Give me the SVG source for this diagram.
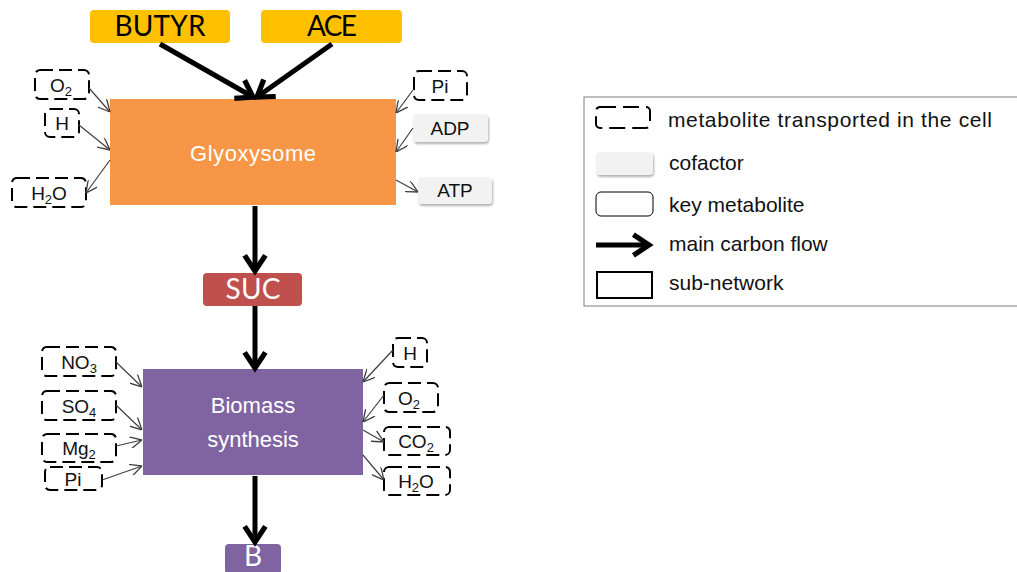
<svg xmlns="http://www.w3.org/2000/svg" width="1017" height="572" viewBox="0 0 1017 572">
<style>
.big{font-family:Lato,"Open Sans",sans-serif;font-size:28px;text-anchor:middle}
.sub{font-family:"Liberation Sans",Arial,sans-serif;font-size:22px;fill:#fff;text-anchor:middle}
.lbl{font-family:"Liberation Sans",Arial,sans-serif;font-size:19px;fill:#111;text-anchor:middle}
.leg{font-family:"Liberation Sans",Arial,sans-serif;font-size:21px;fill:#111}
.dash{fill:#fff;stroke:#000;stroke-width:2;stroke-dasharray:13 6}
.cof{fill:#F2F2F2;filter:url(#sh)}
.thick{stroke:#000;stroke-width:5;fill:none;marker-end:url(#ah)}
.thin{stroke:#404040;stroke-width:1.2;fill:none;marker-end:url(#at)}
</style>
<defs>
<filter id="sh" x="-20%" y="-20%" width="140%" height="160%"><feDropShadow dx="1" dy="2" stdDeviation="1.3" flood-color="#000" flood-opacity="0.3"/></filter>
<marker id="ah" viewBox="0 0 20 20" refX="14" refY="10" markerWidth="26" markerHeight="26" markerUnits="userSpaceOnUse" orient="auto"><path d="M2,2 L14,10 L2,18" fill="none" stroke="#000" stroke-width="4"/></marker>
<marker id="at" viewBox="0 0 10 10" refX="10" refY="5" markerWidth="12" markerHeight="12" markerUnits="userSpaceOnUse" orient="auto"><path d="M0,0 L10,5 L0,10" fill="none" stroke="#404040" stroke-width="1.1"/></marker>
</defs>
<rect width="1017" height="572" fill="#fff"/>

<g id="butyr"><rect x="90" y="10" width="140" height="33" rx="4" fill="#FFC000"/><text class="big" x="160" y="36" textLength="91">BUTYR</text></g>
<g id="ace"><rect x="261" y="10" width="141" height="33" rx="4" fill="#FFC000"/><text class="big" x="332" y="36" textLength="50">ACE</text></g>
<g id="glyoxysome"><rect x="110" y="99" width="286" height="106" fill="#F79646"/><text class="sub" x="253" y="161" textLength="126">Glyoxysome</text></g>
<g id="suc"><rect x="203" y="273" width="99" height="33" rx="4" fill="#C0504D"/><text class="big" x="253" y="299" fill="#fff" textLength="55">SUC</text></g>
<g id="biomass"><rect x="143" y="369" width="220" height="106" fill="#8064A2"/><text class="sub" x="253" y="413">Biomass</text><text class="sub" x="253" y="447">synthesis</text></g>
<g id="b"><rect x="225" y="544" width="56" height="30" rx="4" fill="#8064A2"/><text class="big" x="253" y="566" fill="#fff" font-size="24">B</text></g>

<g id="o2-a"><rect class="dash" x="35" y="70" width="54" height="29" rx="5"/><text class="lbl" x="61" y="92">O<tspan font-size="13" dy="4">2</tspan></text></g>
<g id="h-a"><rect class="dash" x="45" y="109" width="34" height="28" rx="5"/><text class="lbl" x="62" y="130">H</text></g>
<g id="h2o-a"><rect class="dash" x="12" y="178" width="74" height="29" rx="5"/><text class="lbl" x="49" y="200">H<tspan font-size="13" dy="4">2</tspan><tspan dy="-4">O</tspan></text></g>
<g id="pi-a"><rect class="dash" x="414" y="71" width="53" height="29" rx="5"/><text class="lbl" x="440" y="93">Pi</text></g>
<g id="adp"><rect class="cof" x="413" y="114" width="75" height="28" rx="4"/><text class="lbl" x="450" y="135">ADP</text></g>
<g id="atp"><rect class="cof" x="418" y="177" width="74" height="27" rx="4"/><text class="lbl" x="455" y="197">ATP</text></g>

<g id="no3"><rect class="dash" x="42" y="347" width="74" height="29" rx="5"/><text class="lbl" x="79" y="369">NO<tspan font-size="13" dy="4">3</tspan></text></g>
<g id="so4"><rect class="dash" x="42" y="391" width="74" height="29" rx="5"/><text class="lbl" x="79" y="413">SO<tspan font-size="13" dy="4">4</tspan></text></g>
<g id="mg2"><rect class="dash" x="42" y="434" width="74" height="28" rx="5"/><text class="lbl" x="79" y="455">Mg<tspan font-size="13" dy="4">2</tspan></text></g>
<g id="pi-b"><rect class="dash" x="45" y="467" width="57" height="23" rx="5"/><text class="lbl" x="73" y="486">Pi</text></g>
<g id="h-b"><rect class="dash" x="393" y="338" width="34" height="29" rx="5"/><text class="lbl" x="410" y="360">H</text></g>
<g id="o2-b"><rect class="dash" x="384" y="383" width="54" height="29" rx="5"/><text class="lbl" x="409" y="405">O<tspan font-size="13" dy="4">2</tspan></text></g>
<g id="co2"><rect class="dash" x="384" y="427" width="66" height="28" rx="5"/><text class="lbl" x="416" y="448">CO<tspan font-size="13" dy="4">2</tspan></text></g>
<g id="h2o-b"><rect class="dash" x="384" y="467" width="66" height="28" rx="5"/><text class="lbl" x="416" y="488">H<tspan font-size="13" dy="4">2</tspan><tspan dy="-4">O</tspan></text></g>

<g id="connectors">
<line class="thick" x1="160" y1="44" x2="253" y2="97"/>
<line class="thick" x1="332" y1="44" x2="257" y2="97"/>
<line class="thick" x1="255" y1="206" x2="255" y2="271"/>
<line class="thick" x1="255" y1="306" x2="255" y2="368"/>
<line class="thick" x1="255" y1="476" x2="255" y2="542"/>
<line class="thin" x1="89" y1="88" x2="110" y2="112"/>
<line class="thin" x1="79" y1="125" x2="110" y2="150"/>
<line class="thin" x1="110" y1="160" x2="86" y2="193"/>
<line class="thin" x1="413" y1="90" x2="396" y2="113"/>
<line class="thin" x1="413" y1="128" x2="396" y2="152"/>
<line class="thin" x1="396" y1="180" x2="418" y2="192"/>
<line class="thin" x1="116" y1="362" x2="142" y2="387"/>
<line class="thin" x1="116" y1="405" x2="142" y2="430"/>
<line class="thin" x1="116" y1="446" x2="142" y2="440"/>
<line class="thin" x1="102" y1="480" x2="142" y2="466"/>
<line class="thin" x1="393" y1="350" x2="363" y2="382"/>
<line class="thin" x1="384" y1="395" x2="363" y2="422"/>
<line class="thin" x1="363" y1="430" x2="384" y2="442"/>
<line class="thin" x1="363" y1="455" x2="384" y2="480"/>
</g>

<g id="legend">
<rect x="584" y="97" width="440" height="209" fill="#fff" stroke="#7f7f7f" stroke-width="1"/>
<rect class="dash" x="596" y="107" width="54" height="21" rx="4" style="stroke-dasharray:16 7"/>
<text class="leg" x="668" y="127" textLength="324">metabolite  transported  in the cell</text>
<rect class="cof" x="596" y="152" width="57" height="23" rx="4"/>
<text class="leg" x="669" y="170">cofactor</text>
<rect x="596" y="192" width="57" height="24" rx="5" fill="#fff" stroke="#000" stroke-width="1"/>
<text class="leg" x="669" y="212">key metabolite</text>
<line class="thick" x1="596" y1="245" x2="649" y2="245"/>
<text class="leg" x="669" y="251">main carbon flow</text>
<rect x="597" y="272" width="55" height="26" fill="#fff" stroke="#000" stroke-width="2"/>
<text class="leg" x="669" y="290">sub-network</text>
</g>
</svg>
